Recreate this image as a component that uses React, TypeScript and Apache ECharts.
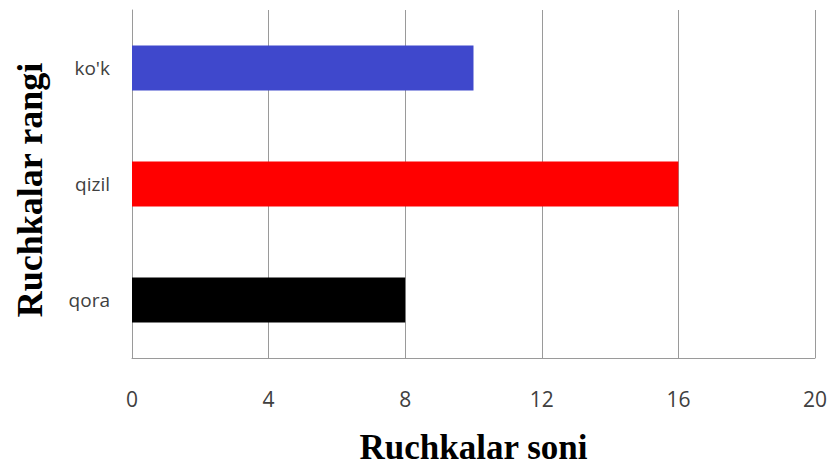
import React, { useEffect, useRef } from "react";
import * as echarts from "echarts";

const categories = ["qora", "qizil", "ko'k"];
const values = [8, 16, 10];
const barColors = ["#000000", "#FF0000", "#3F48CC"];
const xTitle = "Ruchkalar soni";
const yTitle = "Ruchkalar rangi";

export default function App() {
  const ref = useRef<HTMLDivElement>(null);
  useEffect(() => {
    const chart = echarts.init(ref.current!, null, { renderer: "svg" });
    chart.setOption({
      animation: false,
      backgroundColor: "#ffffff",
      grid: { left: 132, right: 13, top: 10, bottom: 108, containLabel: false },
      xAxis: {
        type: "value",
        min: 0,
        max: 20,
        interval: 4,
        name: xTitle,
        nameLocation: "middle",
        nameGap: 72,
        nameTextStyle: { fontFamily: "Liberation Serif", fontWeight: "bold", fontSize: 35, color: "#000" },
        axisLine: { show: true, lineStyle: { color: "#9a9a9a", width: 1 } },
        axisTick: { show: false },
        axisLabel: { margin: 30, fontSize: 21, color: "#404040", fontFamily: "Open Sans" },
        splitLine: { show: true, lineStyle: { color: "#9a9a9a", width: 1 } },
      },
      yAxis: {
        type: "category",
        data: categories,
        name: yTitle,
        nameLocation: "middle",
        nameGap: 84,
        nameRotate: 90,
        nameTextStyle: {
          fontFamily: "Liberation Serif",
          fontWeight: "bold",
          fontSize: 36,
          color: "#000",
          padding: [0, 12, 0, 0],
        },
        axisLine: { show: true, lineStyle: { color: "#9a9a9a", width: 1 } },
        axisTick: { show: false },
        axisLabel: { margin: 22, fontSize: 19, color: "#404040", fontFamily: "Open Sans" },
        splitLine: { show: false },
      },
      series: [
        {
          type: "bar",
          data: values.map((v, i) => ({ value: v, itemStyle: { color: barColors[i] } })),
          barWidth: "39%",
        },
      ],
    });
    return () => chart.dispose();
  }, []);
  return <div ref={ref} style={{ position: "fixed", left: 0, top: 0, width: 830, height: 470 }} />;
}
